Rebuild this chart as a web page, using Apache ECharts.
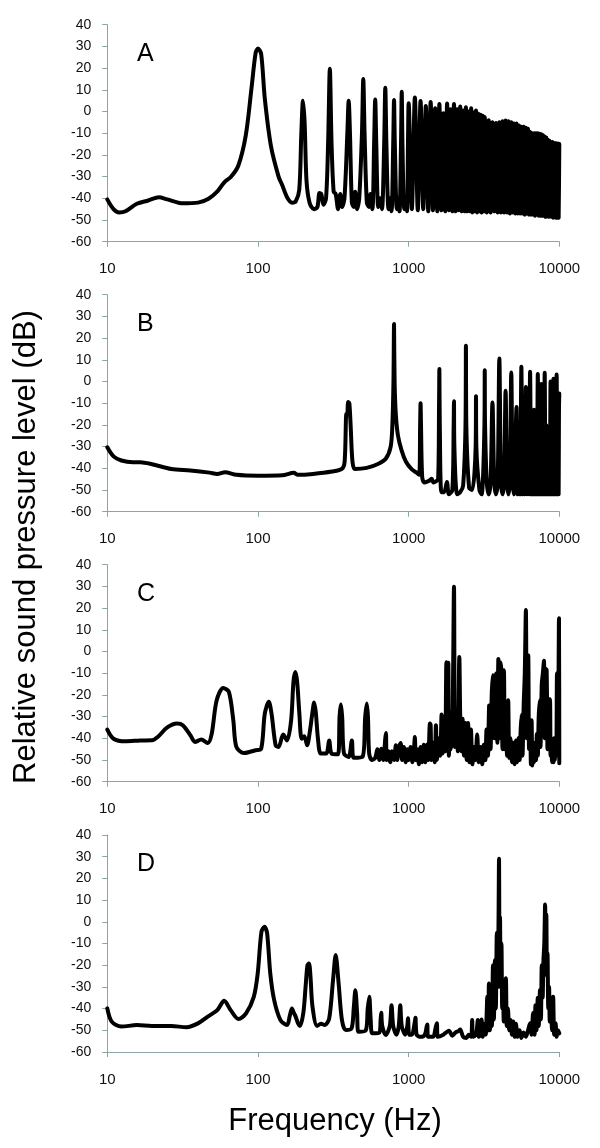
<!DOCTYPE html>
<html><head><meta charset="utf-8">
<script src="https://cdn.jsdelivr.net/npm/echarts@6/dist/echarts.min.js"></script>
<style>html,body{margin:0;padding:0;background:#fff}#c{width:600px;height:1148px}</style>
</head><body><div id="c"></div>
<script>
// ---- data (frequency Hz, relative SPL dB) ----
const xTickValues = [10, 100, 1000, 10000];
const yTickValues = [-60, -50, -40, -30, -20, -10, 0, 10, 20, 30, 40];
const panelLabels = ['A', 'B', 'C', 'D'];
const xTitle = 'Frequency (Hz)';
const yTitle = 'Relative sound pressure level (dB)';

const specA = [[10,-40.5],[11,-45],[12,-46.5],[13.2,-46],[15.7,-42.5],[18.7,-41],[22,-39.5],[25,-40.5],[31.7,-42.3],[40,-42],[47,-40.2],[54,-36.7],[60,-32.5],[66,-30.2],[74,-25],[83,-11],[91,12],[96.5,27],[100,29],[105,26.5],[111,6],[122,-16],[137,-30],[145,-34],[156,-39.5],[168,-42],[178,-41.5],[188,-36],[194,-10],[199,5],[204,-5],[210,-32],[220,-42],[235,-45],[248,-44],[256,-37.5],[263,-38],[272,-43],[283,-40],[292,-15],[300,19.7],[308,-15],[318,-37],[328,-38],[340,-45],[352,-38],[362,-44],[375,-40],[392,-10],[400,5],[408,-10],[420,-42],[432,-44],[442,-37],[455,-45],[470,-40],[490,-10],[500,15],[510,-10],[528,-42],[545,-44],[558,-38],[575,-45],[590,-15],[600,5.5],[610,-15],[628,-44],[645,-40],[665,-45],[688,-15],[700,11],[712,-15],[735,-45],[752,-40],[770,-46],[790,-15],[800,5.3],[810,-15],[835,-45],[855,-40],[870,-46],[890,-15],[900,9.1],[910,-15],[935,-45],[960,-40],[975,-46],[992,-10],[1000,3.8],[1050,-45],[1100,6.5],[1150,-45.5],[1200,4.8],[1250,-45],[1300,2.5],[1350,-46],[1400,4.4],[1450,-45.5],[1500,1.5],[1550,-46],[1600,3.4],[1650,-45.5],[1700,-0.8],[1750,-46],[1800,3.7],[1850,-45.5],[1900,1],[1950,-46],[2000,3.5],[2050,-46],[2100,1],[2150,-45.5],[2200,2.3],[2250,-46],[2300,0.5],[2350,-46],[2400,2],[2450,-46],[2500,0],[2550,-46],[2600,1.5],[2650,-46.5],[2700,-0.5],[2750,-46],[2800,0.5],[2850,-46.5],[2900,-1],[2950,-46],[3000,-1.5],[3050,-46.5],[3100,-2],[3150,-46],[3200,-2.5],[3300,-46.5],[3400,-4],[3500,-46.5],[3600,-5],[3700,-46],[3800,-5.3],[3900,-46.5],[4000,-5],[4100,-46.5],[4200,-4.5],[4300,-46.5],[4400,-4.2],[4500,-46.5],[4600,-4.5],[4700,-47],[4800,-5],[4900,-46.5],[5000,-5.5],[5100,-47],[5200,-5.5],[5300,-47],[5400,-6.5],[5500,-47],[5600,-7],[5700,-47],[5800,-7],[5900,-47.5],[6000,-7.5],[6100,-47],[6200,-8],[6300,-47.5],[6400,-9.5],[6500,-47.5],[6600,-10],[6700,-47.5],[6800,-10],[6900,-48],[7000,-10],[7100,-47.5],[7200,-10],[7300,-48],[7400,-10.2],[7500,-48],[7600,-10.5],[7700,-48],[7800,-11],[7900,-48],[8000,-11.5],[8100,-48.5],[8200,-12],[8300,-48],[8400,-13],[8500,-48.5],[8600,-13.5],[8700,-48.5],[8800,-14],[8900,-48.5],[9000,-14],[9100,-49],[9200,-14.5],[9300,-48.5],[9400,-14.5],[9500,-49],[9600,-14.8],[9700,-49],[9800,-14.8],[9900,-49],[10000,-15]];

const specB = [[10,-30.3],[11,-34.5],[12.4,-36.4],[14.8,-37.2],[16.6,-37.2],[19.8,-38.1],[26.6,-40.3],[35.6,-41],[47.7,-42],[53.6,-42.6],[60.4,-41.8],[72,-43],[100,-43.4],[145,-43.2],[173,-42.1],[184,-43],[232,-42.6],[310,-41.5],[360,-40.3],[376,-37],[386,-15],[391,-15.5],[397,-9.5],[404,-10],[412,-20],[424,-37],[440,-40.3],[527,-39.8],[626,-38],[705,-35.6],[760,-30],[780,-20],[793,0],[800,26.5],[807,0],[822,-15],[850,-25],[900,-32],[960,-37],[1050,-40.5],[1130,-42],[1175,-43],[1192,-20],[1200,-10],[1208,-20],[1230,-44],[1270,-46.5],[1340,-46],[1385,-45.5],[1423,-44.8],[1460,-46.5],[1520,-46],[1570,-45],[1592,-10],[1600,5.8],[1610,-20],[1650,-51],[1720,-51],[1795,-46.3],[1850,-52],[1950,-50],[1990,-20],[2000,-9.1],[2012,-30],[2100,-52],[2200,-51],[2300,-48],[2385,-20],[2400,16.5],[2415,-20],[2520,-49],[2640,-50],[2785,-30],[2800,-6.8],[2815,-30],[2950,-50],[3050,-52],[3185,-20],[3200,5.2],[3215,-20],[3300,-46],[3400,-52],[3500,-46],[3600,-9.7],[3700,-46],[3800,-52],[3900,-46],[4000,10.6],[4100,-46],[4200,-52],[4300,-46],[4400,-4.3],[4500,-46],[4600,-52],[4700,-45],[4800,4.2],[4900,-45],[5000,-52],[5100,-32],[5200,-11.7],[5300,-52],[5400,-25],[5500,-52],[5600,6.8],[5700,-52],[5800,-18],[5900,-52],[6000,-2.5],[6100,-52],[6200,-16],[6300,-52],[6400,4.5],[6500,-52],[6600,-14],[6700,-52],[6800,-13],[6900,-52],[7000,-15],[7100,-52],[7200,3.4],[7300,-52],[7400,-14],[7500,-52],[7600,-1.2],[7700,-52],[7800,-15],[7900,-52],[8000,4],[8100,-52],[8200,-20],[8300,-52],[8350,-26],[8450,-52],[8550,-22],[8650,-52],[8750,0],[8850,-52],[8950,-15],[9050,-52],[9150,1.3],[9250,-52],[9350,-10],[9450,-52],[9600,3.2],[9700,-52],[9800,-15],[9900,-52],[9950,-13],[10000,-5.5]];

const specC = [[10,-36],[11,-40.2],[13.2,-41.4],[16.6,-41],[19.8,-40.9],[21.6,-39.4],[25,-35],[29,-33.2],[31.7,-34],[35.6,-38.6],[38.2,-41.7],[42,-40.6],[46.5,-42.2],[49.3,-38],[53.2,-22.5],[58.8,-16.8],[64.1,-18.6],[68.6,-31.7],[71.9,-44],[80.8,-46.8],[96.3,-45.5],[105,-44.8],[111,-28.6],[118,-23.2],[123,-28.6],[131,-43.2],[137,-44],[147,-38.3],[156,-41],[166,-31.7],[172,-14],[177,-9.5],[182,-14],[188,-28],[195,-40.2],[203,-39],[212,-43.2],[220,-37.8],[230,-28],[236,-23.5],[242,-28],[250,-40],[261,-47],[284,-47],[297,-41],[308,-47],[340,-47.4],[348,-30],[355,-24.3],[362,-30],[372,-47],[400,-48.6],[420,-41],[432,-49],[494,-48.6],[515,-30],[527,-24],[537,-30],[547,-47],[570,-50],[600,-49],[620,-45],[640,-50],[660,-44.8],[680,-50],[700,-40],[707,-37.6],[715,-50],[735,-46],[755,-51],[775,-46],[800,-50],[822,-43.2],[840,-50],[860,-44],[885,-42.2],[905,-50],[930,-44],[955,-51],[980,-45],[1000,-50],[1030,-44],[1060,-51],[1085,-45],[1100,-39.4],[1115,-50],[1140,-45],[1170,-52],[1200,-44],[1230,-51],[1260,-43],[1290,-51],[1320,-43],[1350,-50],[1385,-33.2],[1400,-33.8],[1415,-50],[1450,-42],[1490,-51],[1518,-34],[1540,-50],[1580,-40],[1620,-48],[1655,-29],[1680,-47],[1720,-30],[1750,-46],[1780,-5],[1800,-30],[1833,-5.2],[1850,-48],[1880,-28],[1920,-45],[1960,-28],[2000,29.8],[2030,-44],[2080,-27],[2120,-46],[2170,-2.5],[2200,-30],[2240,-46],[2280,-31],[2330,-48],[2380,-33],[2430,-50],[2480,-33],[2530,-51],[2590,-36],[2650,-52],[2720,-44],[2780,-50],[2850,-38.2],[2920,-51],[3000,-44],[3080,-52],[3150,-43],[3230,-50],[3290,-36],[3360,-48],[3420,-25],[3460,-24.8],[3500,-45],[3560,-20],[3620,-11],[3700,-40],[3760,-12],[3820,-10],[3880,-42],[3940,-3.5],[4000,-40],[4060,-5],[4120,-8.6],[4200,-45],[4290,-8.6],[4350,-45],[4420,-28],[4500,-48],[4580,-22.5],[4650,-49],[4740,-40],[4850,-51],[4950,-42],[5050,-52],[5150,-41],[5250,-51],[5350,-40],[5450,-50],[5550,-35],[5630,-29],[5700,-48],[5800,-25],[5900,-10],[6000,19.1],[6080,-40],[6150,-10],[6220,-1.7],[6300,-45],[6400,-35],[6480,-52],[6550,-31.7],[6620,-52.5],[6700,-42],[6800,-51],[6900,-42],[7000,-50],[7100,-38],[7200,-48],[7300,-30],[7430,-22.5],[7500,-44],[7650,-15],[7780,-10],[7910,-4.3],[8000,-40],[8100,-8],[8240,-8.6],[8350,-45],[8450,-25],[8550,-22],[8670,-22],[8750,-48],[8850,-40],[8950,-51],[9050,-42],[9150,-51],[9250,-40],[9350,-50],[9450,-40],[9550,-48],[9650,-10],[9750,-45],[9850,-25],[9950,15.3],[10000,-51.5]];

const specD = [[10,-39.9],[10.7,-46],[12.4,-48.3],[15.7,-47.6],[19.8,-48],[26.6,-48],[33.6,-48.6],[40,-46.8],[46.4,-43.7],[53.7,-40.7],[59.6,-36.4],[65.9,-40.7],[74.2,-44.8],[83.4,-42.2],[93.9,-34.5],[99.6,-23.8],[105.5,-4.6],[110.6,-2.3],[115,-5.3],[120.7,-23.8],[128,-36],[141,-45.3],[156,-47.6],[163,-43],[168,-39.9],[173,-42],[178,-43.7],[185,-47],[190,-48],[200,-42],[207,-30],[213,-20],[218,-19.2],[223,-25],[230,-39],[247,-48],[262,-47],[278,-47.6],[297,-44.5],[315,-26.8],[328,-15.3],[343,-28.4],[361,-45.3],[383,-49.9],[418,-49.1],[432,-40],[443,-31.5],[455,-42],[464,-50.7],[520,-50],[535,-40],[548,-34.5],[560,-45],[575,-51.4],[640,-51],[652,-45],[658,-41.9],[668,-48],[705,-52.2],[750,-48],[770,-38.4],[790,-48],[830,-52],[860,-48],[880,-38.4],[900,-48],[950,-52],[980,-48],[990,-44.5],[1010,-52],[1050,-52],[1100,-46],[1110,-44.2],[1130,-52],[1200,-53],[1280,-52],[1320,-48],[1330,-47.3],[1345,-53],[1450,-53],[1520,-48],[1540,-46.8],[1560,-53],[1700,-52],[1850,-50.2],[1950,-52.5],[2050,-51],[2150,-50.3],[2200,-49.6],[2300,-53],[2420,-53.5],[2500,-52],[2600,-53],[2640,-45.3],[2680,-53],[2800,-52],[2880,-45.3],[2920,-53],[3000,-52],[3050,-45],[3100,-53],[3200,-47],[3250,-52],[3330,-34.5],[3380,-50],[3410,-28.4],[3460,-50],[3520,-30],[3570,-48],[3630,-20],[3680,-45],[3740,-17.6],[3790,-40],[3850,-5],[3900,-30],[3950,0],[3980,29],[4010,-20],[4040,2.3],[4080,-30],[4130,-10],[4180,-40],[4230,-30],[4280,-46],[4350,-35],[4420,-26],[4480,-48],[4560,-40],[4650,-50],[4750,-45.3],[4850,-52],[4950,-46],[5050,-53],[5150,-47],[5300,-53],[5450,-50],[5600,-53.5],[5800,-51],[6000,-53],[6200,-50],[6400,-46.8],[6550,-52],[6700,-42],[6850,-52],[6950,-38.4],[7050,-50],[7200,-35],[7300,-48],[7450,-31.4],[7550,-45],[7650,-20],[7750,-35],[7850,-17.6],[7950,-10],[8050,8],[8120,-20],[8200,3.5],[8280,-25],[8350,-14.5],[8450,-40],[8550,-30],[8650,-46],[8800,-38],[8950,-50],[9100,-34.5],[9250,-52],[9450,-46.8],[9600,-53],[9800,-50],[10000,-51.4]];

const spectra = [specA, specB, specC, specD];

// ---- layout ----
const font = '"Liberation Sans", Arial, sans-serif';
const axisColor = '#8aa5a5';
const gridTops = [24.7, 294.7, 564.7, 835];
const gridLeft = 107.3, gridWidth = 452, gridHeight = 217;

const grids = [], xAxes = [], yAxes = [], series = [], graphics = [];
spectra.forEach((spec, i) => {
  grids.push({left: gridLeft, top: gridTops[i], width: gridWidth, height: gridHeight});
  xAxes.push({
    type: 'log', logBase: 10, gridIndex: i,
    min: xTickValues[0], max: xTickValues[xTickValues.length - 1],
    axisLine: {show: true, onZero: false, lineStyle: {color: axisColor, width: 1}},
    axisTick: {show: true, length: 5, lineStyle: {color: axisColor, width: 1}},
    minorTick: {show: false}, splitLine: {show: false},
    axisLabel: {fontSize: 15, color: '#111', margin: 20, fontFamily: font,
      formatter: v => String(Math.round(v))}
  });
  yAxes.push({
    type: 'value', gridIndex: i,
    min: yTickValues[0], max: yTickValues[yTickValues.length - 1], interval: 10,
    axisLine: {show: true, onZero: false, lineStyle: {color: axisColor, width: 1}},
    axisTick: {show: true, length: 5, lineStyle: {color: axisColor, width: 1}},
    splitLine: {show: false},
    axisLabel: {fontSize: 14, color: '#111', margin: 16, fontFamily: font}
  });
  series.push({
    type: 'line', xAxisIndex: i, yAxisIndex: i, data: spec,
    showSymbol: false, symbol: 'none', silent: true, animation: false,
    smooth: 0.3,
    lineStyle: {color: '#000', width: 4, join: 'round', cap: 'round'}
  });
  graphics.push({
    type: 'text', x: 137, y: gridTops[i] + 29.5,
    style: {text: panelLabels[i], font: '25px ' + font, fill: '#000', align: 'left', verticalAlign: 'middle'}
  });
});
graphics.push({
  type: 'text', x: 26, y: 547, rotation: Math.PI / 2,
  style: {text: yTitle, font: '31px ' + font, fill: '#000', align: 'center', verticalAlign: 'middle'}
});
graphics.push({
  type: 'text', x: 335, y: 1121,
  style: {text: xTitle, font: '31px ' + font, fill: '#000', align: 'center', verticalAlign: 'middle'}
});

const chart = echarts.init(document.getElementById('c'), null, {renderer: 'canvas'});
chart.setOption({
  animation: false,
  backgroundColor: '#fff',
  grid: grids, xAxis: xAxes, yAxis: yAxes, series: series, graphic: graphics
});
</script>
</body></html>
